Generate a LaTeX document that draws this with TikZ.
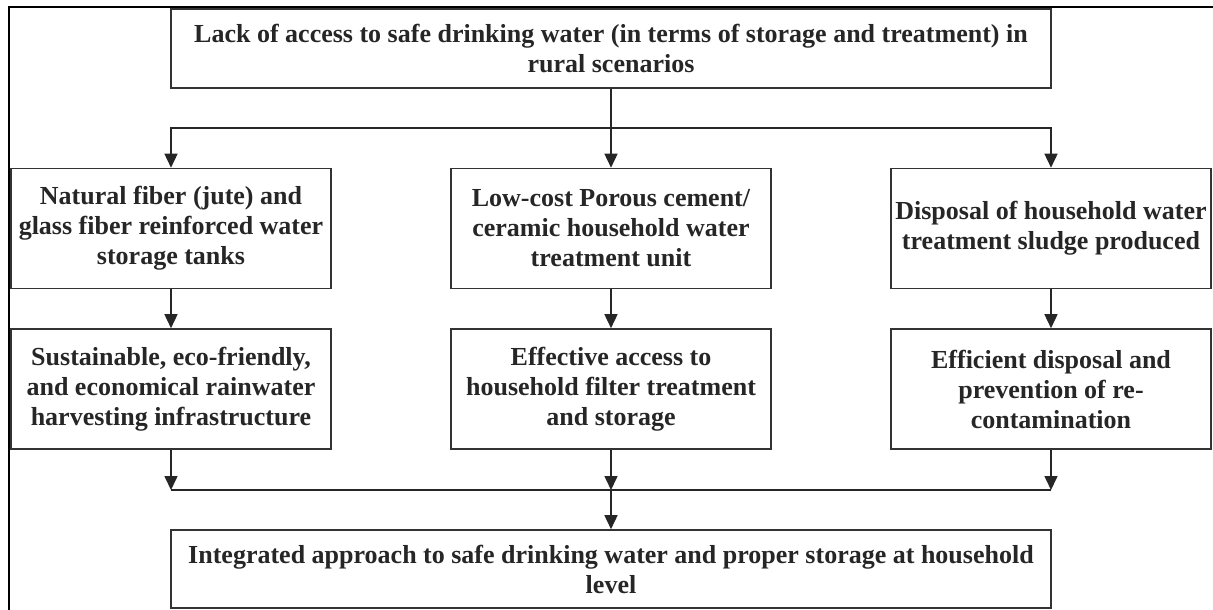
\documentclass[tikz,border=0pt]{standalone}
\usepackage{fontspec}
\setmainfont{Liberation Serif}
\usetikzlibrary{arrows.meta}
\begin{document}
\begin{tikzpicture}[x=1pt,y=-1pt,
  box/.style={draw=black!80, line width=1.6pt, fill=white, align=center, inner sep=0pt,
    font=\fontsize{26}{30}\selectfont\bfseries, text=black!85},
  wide/.style={box, minimum width=880pt, minimum height=79pt},
  cell/.style={box, minimum width=320pt, minimum height=120pt},
  conn/.style={draw=black!85, line width=1.6pt},
  arr/.style={conn, -{Triangle[length=14pt,width=13pt]}}
]
\useasboundingbox (0,0) rectangle (1213,610);
\draw[line width=2.6pt] (9,612) -- (9,7) -- (1215,7);

\node[wide] (top) at (611,48.5) {Lack of access to safe drinking water (in terms of storage and treatment) in\\rural scenarios};

\node[cell] (a1) at (171,228.5) {Natural fiber (jute) and\\glass fiber reinforced water\\storage tanks};
\node[cell] (a2) at (611,228.5) {Low-cost Porous cement/\\ceramic household water\\treatment unit};
\node[cell] (a3) at (1051,228.5) {Disposal of household water\\treatment sludge produced};

\node[cell] (b1) at (171,389) {Sustainable, eco-friendly,\\and economical rainwater\\harvesting infrastructure};
\node[cell] (b2) at (611,389) {Effective access to\\household filter treatment\\and storage};
\node[cell] (b3) at (1051,389) {Efficient disposal and\\prevention of re-\\contamination};

\node[wide, minimum height=78pt] (bot) at (611,569) {Integrated approach to safe drinking water and proper storage at household\\level};

\coordinate (j1) at (611,128);
\coordinate (j2) at (611,490);

\draw[conn] (top.south) -- (j1);
\draw[arr] (j1) -| (a1.north);
\draw[arr] (j1) -| (a3.north);
\draw[arr] (j1) -- (a2.north);

\draw[arr] (a1.south) -- (b1.north);
\draw[arr] (a2.south) -- (b2.north);
\draw[arr] (a3.south) -- (b3.north);

\draw[arr] (b1.south) -- (b1.south |- j2);
\draw[arr] (b2.south) -- (j2);
\draw[arr] (b3.south) -- (b3.south |- j2);
\draw[conn] (b1.south |- j2) -- (b3.south |- j2);
\draw[arr] (j2) -- (bot.north);
\end{tikzpicture}
\end{document}
